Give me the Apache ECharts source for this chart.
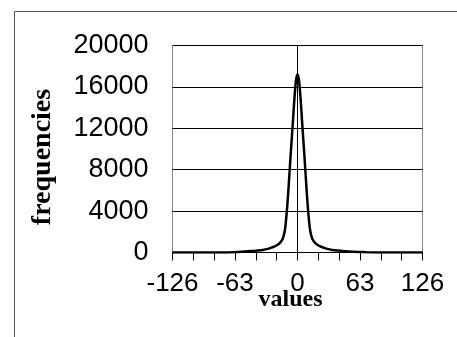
<!DOCTYPE html>
<html>
<head>
<meta charset="utf-8">
<script src="https://cdn.jsdelivr.net/npm/echarts@6/dist/echarts.min.js"></script>
<style>html,body{margin:0;padding:0;background:#fff}#c{width:457px;height:337px}</style>
</head>
<body>
<div id="c"></div>
<script>
var xValues = [-126, -90, -70, -60, -56, -50, -45, -40, -35, -30, -27, -23, -20, -17, -15, -14, -13, -12, -11, -10, -9, -8, -7, -6, -5, -4, -3, -2, -1, 0, 1, 2, 3, 4, 5, 6, 7, 8, 9, 10, 11, 12, 13, 14, 15, 17, 20, 23, 27, 30, 35, 40, 45, 50, 55, 60, 64, 70, 90, 126];
var frequencies = [0, 0, 10, 40, 80, 120, 150, 190, 250, 350, 450, 600, 750, 1000, 1300, 1600, 2000, 2700, 3700, 4900, 6300, 7800, 9300, 10700, 12100, 13600, 15000, 16200, 16900, 17200, 16900, 16200, 15000, 13600, 12100, 10700, 9300, 7800, 6300, 4900, 3700, 2700, 2000, 1600, 1300, 1000, 750, 600, 450, 350, 250, 190, 150, 110, 80, 60, 50, 20, 0, 0];
var xTickLabels = [-126, -63, 0, 63, 126];
var yTickLabels = [0, 4000, 8000, 12000, 16000, 20000];

var chart = echarts.init(document.getElementById('c'), null, {renderer: 'canvas'});
var pts = xValues.map(function (x, i) { return [x, frequencies[i]]; });
chart.setOption({
  animation: false,
  backgroundColor: '#fff',
  graphic: [{
    type: 'rect', shape: {x: 14.5, y: 11.5, width: 460, height: 340},
    style: {fill: 'none', stroke: '#555', lineWidth: 1}, z: 0
  }],
  grid: {left: 172.5, right: 34.5, top: 45.5, bottom: 84.5, show: true, borderColor: '#888', borderWidth: 1, backgroundColor: 'transparent'},
  xAxis: {
    type: 'value', min: -126, max: 126, interval: 21,
    name: 'values', nameLocation: 'middle', nameGap: 35, nameMoveOverlap: false,
    nameTextStyle: {fontFamily: 'Liberation Serif', fontWeight: 'bold', fontSize: 24, color: '#000', padding: [0, 14, 0, 0]},
    axisLine: {show: true, onZero: false, lineStyle: {color: '#000', width: 1}},
    axisTick: {show: true, inside: false, length: 8, lineStyle: {color: '#000'}},
    axisLabel: {
      margin: 18, fontFamily: 'Liberation Sans', fontSize: 26, color: '#000',
      formatter: function (v) { return xTickLabels.indexOf(v) >= 0 ? String(v) : ''; }
    },
    splitLine: {show: false}
  },
  yAxis: {
    type: 'value', min: 0, max: 20000, interval: 4000,
    name: 'frequencies', nameLocation: 'middle', nameGap: 116, nameRotate: 90, nameMoveOverlap: false,
    nameTextStyle: {fontFamily: 'Liberation Serif', fontWeight: 'bold', fontSize: 28, color: '#000', padding: [0, 16, 0, 0]},
    axisLine: {show: true, lineStyle: {color: '#000', width: 1}},
    axisTick: {show: true, inside: false, length: 9, lineStyle: {color: '#000'}},
    axisLabel: {
      margin: 24, fontFamily: 'Liberation Sans', fontSize: 27, color: '#000',
      formatter: function (v) { return yTickLabels.indexOf(v) >= 0 ? String(v) : ''; }
    },
    splitLine: {show: true, lineStyle: {color: '#000', width: 1}}
  },
  series: [{
    type: 'line', data: pts, showSymbol: false, smooth: 0.2,
    lineStyle: {color: '#000', width: 2.5}, z: 5
  }]
});
</script>
</body>
</html>
